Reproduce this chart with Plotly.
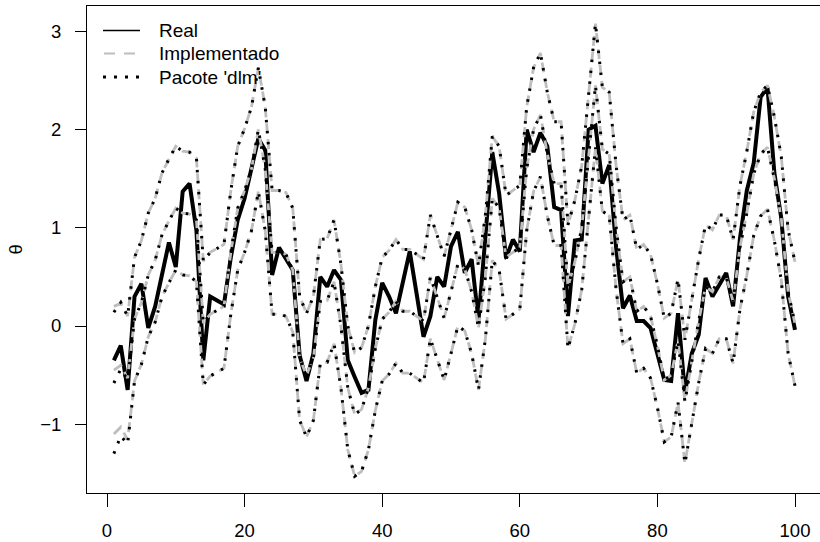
import plotly.graph_objects as go

t = list(range(1, 101))

real = [-0.35, -0.20, -0.65, 0.30, 0.43, -0.02, 0.20, 0.55, 0.85, 0.60,
        1.37, 1.45, 0.97, -0.35, 0.30, 0.26, 0.22, 0.70, 1.08, 1.30,
        1.60, 1.91, 1.79, 0.52, 0.80, 0.69, 0.57, -0.30, -0.56, -0.28,
        0.50, 0.40, 0.57, 0.47, -0.35, -0.52, -0.68, -0.65, 0.06, 0.44,
        0.30, 0.13, 0.47, 0.76, 0.33, -0.11, 0.10, 0.50, 0.40, 0.81,
        0.96, 0.54, 0.68, 0.06, 0.91, 1.77, 1.35, 0.69, 0.88, 0.76,
        2.00, 1.77, 1.97, 1.83, 1.21, 1.18, 0.10, 0.87, 0.88, 2.00,
        2.04, 1.45, 1.64, 0.80, 0.18, 0.31, 0.05, 0.05, -0.02, -0.28,
        -0.55, -0.56, 0.13, -0.68, -0.28, -0.09, 0.49, 0.30, 0.43, 0.54,
        0.20, 0.89, 1.38, 1.66, 2.33, 2.43, 1.56, 1.10, 0.30, -0.04]

mean_impl = [-0.45, -0.40, -0.53, 0.07, 0.24, 0.52, 0.67, 0.93, 1.07, 1.20,
             1.15, 1.14, 1.08, 0.03, 0.12, 0.16, 0.20, 0.75, 1.20, 1.38,
             1.60, 2.00, 1.60, 0.75, 0.75, 0.73, 0.57, -0.33, -0.50, -0.33,
             0.25, 0.26, 0.45, 0.00, -0.63, -0.90, -0.85, -0.63, -0.23, 0.07,
             0.14, 0.25, 0.15, 0.15, 0.10, 0.05, 0.50, 0.30, 0.08, 0.35,
             0.63, 0.58, 0.35, -0.02, 0.50, 1.30, 1.20, 0.70, 0.75, 0.80,
             1.60, 2.00, 2.15, 1.75, 1.45, 1.45, 0.40, 0.65, 1.00, 1.75,
             2.45, 1.80, 1.75, 1.00, 0.45, 0.50, 0.15, 0.20, 0.10, -0.20,
             -0.55, -0.50, -0.15, -0.77, -0.35, 0.05, 0.40, 0.35, 0.50, 0.50,
             0.25, 0.80, 1.15, 1.55, 1.75, 1.82, 1.50, 1.10, 0.35, 0.02]

hw_impl = [0.65, 0.63, 0.63, 0.63, 0.63, 0.63, 0.63, 0.63, 0.63, 0.63,
           0.63, 0.63, 0.63, 0.63, 0.63, 0.63, 0.63, 0.63, 0.63, 0.63,
           0.63, 0.63, 0.63, 0.63, 0.63, 0.63, 0.63, 0.63, 0.63, 0.63,
           0.63, 0.63, 0.63, 0.63, 0.63, 0.63, 0.63, 0.63, 0.63, 0.63,
           0.63, 0.63, 0.63, 0.63, 0.63, 0.63, 0.63, 0.63, 0.63, 0.63,
           0.63, 0.63, 0.63, 0.63, 0.63, 0.63, 0.63, 0.63, 0.63, 0.63,
           0.63, 0.63, 0.63, 0.63, 0.63, 0.63, 0.63, 0.63, 0.63, 0.63,
           0.63, 0.63, 0.63, 0.63, 0.63, 0.63, 0.63, 0.63, 0.63, 0.63,
           0.63, 0.63, 0.63, 0.63, 0.63, 0.63, 0.63, 0.63, 0.63, 0.63,
           0.63, 0.63, 0.63, 0.63, 0.63, 0.63, 0.63, 0.63, 0.63, 0.63]

# 'dlm' package differs only in the first steps (initialisation)
dlm_mean_start = [-0.58, -0.44, -0.55]
dlm_hw_start = [0.72, 0.68, 0.65]
mean_dlm = dlm_mean_start + mean_impl[len(dlm_mean_start):]
hw_dlm = dlm_hw_start + hw_impl[len(dlm_hw_start):]

legend_labels = ["Real", "Implementado", "Pacote 'dlm'"]
x_ticks = [0, 20, 40, 60, 80, 100]
y_ticks = [-1, 0, 1, 2, 3]

FONT = "Liberation Sans, Arial, Helvetica, sans-serif"
GRAY = "#BEBEBE"

fig = go.Figure()

fig.add_trace(go.Scatter(x=t, y=real, mode="lines",
                         line=dict(color="black", width=4), hoverinfo="skip"))

for m, h in [(mean_impl, hw_impl)]:
    up = [a + b for a, b in zip(m, h)]
    lo = [a - b for a, b in zip(m, h)]
    for s in (m, up, lo):
        fig.add_trace(go.Scatter(x=t, y=s, mode="lines",
                                 line=dict(color=GRAY, width=2.8, dash="10px,6px"),
                                 hoverinfo="skip"))

for m, h in [(mean_dlm, hw_dlm)]:
    up = [a + b for a, b in zip(m, h)]
    lo = [a - b for a, b in zip(m, h)]
    for s in (m, up, lo):
        fig.add_trace(go.Scatter(x=t, y=s, mode="lines",
                                 line=dict(color="black", width=3, dash="2.5px,8.5px"),
                                 hoverinfo="skip"))

# plot area geometry (pixels)
L, R, T, B = 87, 820, 6, 493
W, H = R - L, B - T
x0px, xscale = 107, 6.88
y0px, yscale = 326, 98.2
xr = [(L - x0px) / xscale, (R - x0px) / xscale]
yr = [(y0px - B) / yscale, (y0px - T) / yscale]

def px(xp):
    return (xp - L) / W

def py(yp):
    return (B - yp) / H

# legend drawn by hand
leg_y = [30.5, 53.5, 77]
fig.add_shape(type="line", xref="paper", yref="paper",
              x0=px(103), x1=px(140), y0=py(leg_y[0]), y1=py(leg_y[0]),
              line=dict(color="black", width=1.6))
fig.add_shape(type="line", xref="paper", yref="paper",
              x0=px(104), x1=px(140), y0=py(leg_y[1]), y1=py(leg_y[1]),
              line=dict(color=GRAY, width=1.8, dash="11px,9px"))
fig.add_shape(type="line", xref="paper", yref="paper",
              x0=px(103), x1=px(140), y0=py(leg_y[2]), y1=py(leg_y[2]),
              line=dict(color="black", width=3, dash="3px,8px"))
for lab, yy in zip(legend_labels, leg_y):
    fig.add_annotation(text=lab, xref="paper", yref="paper", x=px(157), y=py(yy),
                       xanchor="left", yanchor="middle", showarrow=False,
                       font=dict(family=FONT, size=19, color="black"))

fig.add_annotation(text="θ", xref="paper", yref="paper", x=px(15), y=0.5,
                   xanchor="center", yanchor="middle", textangle=-90, showarrow=False,
                   font=dict(family=FONT, size=18.5, color="black"))

fig.update_layout(
    width=820, height=542,
    margin=dict(l=L, r=820 - R, t=T, b=542 - B, pad=0),
    paper_bgcolor="white", plot_bgcolor="white",
    showlegend=False,
    font=dict(family=FONT, size=18.5, color="black"),
    xaxis=dict(range=xr, tickvals=x_ticks, ticks="outside", ticklen=13, tickwidth=1,
               tickcolor="black", showline=True, linecolor="black", linewidth=1,
               mirror=True, showgrid=False, zeroline=False, ticklabelstandoff=8),
    yaxis=dict(range=yr, tickvals=y_ticks, ticks="outside", ticklen=11, tickwidth=1,
               tickcolor="black", showline=True, linecolor="black", linewidth=1,
               mirror=False, showgrid=False, zeroline=False, ticklabelstandoff=10),
)

fig.write_html("out.html")
